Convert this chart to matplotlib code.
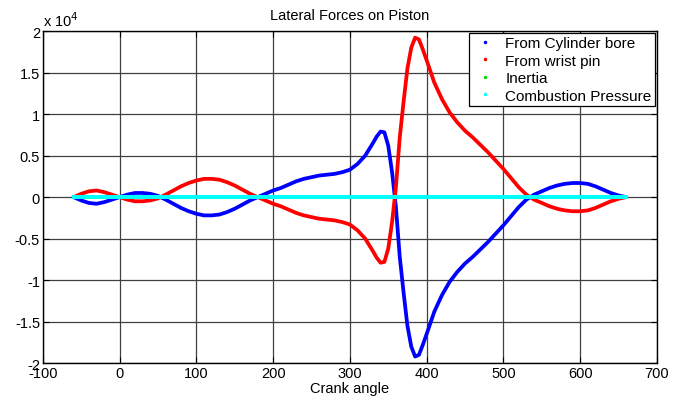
import matplotlib
matplotlib.use('Agg')
import matplotlib.pyplot as plt
from matplotlib.lines import Line2D
from matplotlib.ticker import FuncFormatter
import numpy as np

plt.rcParams['font.family'] = ['Liberation Sans', 'DejaVu Sans']
plt.rcParams['axes.unicode_minus'] = False

# crank angle (deg)
crank = [-60, -50, -40, -30, -20, -10, 0, 10, 20, 30, 40, 50, 60, 70, 80, 90,
         100, 110, 120, 130, 140, 150, 160, 170, 180, 190, 200, 210, 220, 230,
         240, 250, 260, 270, 280, 290, 300, 310, 320, 330, 335, 340, 345, 350,
         355, 360, 365, 370, 375, 380, 385, 390, 395, 400, 410, 420, 430, 440,
         450, 460, 470, 480, 490, 500, 510, 520, 530, 540, 550, 560, 570, 580,
         590, 600, 610, 620, 630, 640, 650, 660]

# lateral force from cylinder bore
bore = [0, -400, -700, -800, -600, -300, 0, 300, 500, 500, 400, 150, -300,
        -800, -1300, -1700, -2000, -2200, -2200, -2100, -1800, -1400, -900,
        -400, 0, 400, 800, 1100, 1500, 1900, 2200, 2400, 2600, 2700, 2800,
        3000, 3300, 4000, 5000, 6500, 7300, 7900, 7800, 6200, 3000, -1200,
        -7200, -11500, -15500, -18000, -19200, -19000, -17800, -16500, -13800,
        -11800, -10200, -9000, -8000, -7200, -6300, -5400, -4400, -3400,
        -2300, -1200, -300, 300, 700, 1100, 1400, 1600, 1700, 1700, 1600,
        1300, 900, 500, 200, 0]

# lateral force from wrist pin
wrist = [0, 400, 700, 800, 600, 300, 0, -300, -500, -500, -400, -150, 300,
         800, 1300, 1700, 2000, 2200, 2200, 2100, 1800, 1400, 900,
         400, 0, -400, -800, -1100, -1500, -1900, -2200, -2400, -2600, -2700,
         -2800, -3000, -3300, -4000, -5000, -6500, -7300, -7900, -7800, -6200,
         -3000, 1200, 7200, 11500, 15500, 18000, 19200, 19000, 17800, 16500,
         13800, 11800, 10200, 9000, 8000, 7200, 6300, 5400, 4400, 3400,
         2300, 1200, 300, -300, -700, -1100, -1400, -1600, -1700, -1700, -1600,
         -1300, -900, -500, -200, 0]

inertia = [0] * len(crank)
combustion = [0] * len(crank)

fig = plt.figure(figsize=(6.8, 4.06), dpi=100)
ax = fig.add_axes([0.063, 0.103, 0.903, 0.818])

ax.plot(crank, bore, color='#0000ff', lw=2.7, solid_capstyle='round')
ax.plot(crank, wrist, color='#ff0000', lw=2.7, solid_capstyle='round')
ax.plot(crank, inertia, color='#00dd00', lw=2.7)
ax.plot(crank, combustion, color='#00ffff', lw=2.9)

ax.set_xlim(-100, 700)
ax.set_ylim(-20000, 20000)
ax.set_xticks(np.arange(-100, 701, 100))
ax.set_yticks(np.arange(-20000, 20001, 5000))
ax.yaxis.set_major_formatter(FuncFormatter(lambda v, p: f'{v / 1e4:g}'))
ax.grid(True, color='0.25', lw=0.9)
ax.set_axisbelow(True)
ax.tick_params(direction='in', top=True, right=True, labelsize=10.5, length=4,
               pad=2)
for s in ax.spines.values():
    s.set_linewidth(1.0)

ax.text(0.0, 1.005, r'x 10$^4$', transform=ax.transAxes, fontsize=10.5,
        ha='left', va='bottom')
ax.set_title('Lateral Forces on Piston', fontsize=10.5, pad=9)
ax.set_xlabel('Crank angle', fontsize=10.5, labelpad=1)

handles = [Line2D([], [], color=c, marker='.', ms=3, ls='none')
           for c in ['#0000ff', '#ff0000', '#00dd00', '#00ffff']]
leg = ax.legend(handles, ['From Cylinder bore', 'From wrist pin', 'Inertia',
                          'Combustion Pressure'],
                loc='upper right', fontsize=11, fancybox=False,
                borderaxespad=0.1, handlelength=1.6, labelspacing=0.22,
                handletextpad=0.5, borderpad=0.25)
leg.get_frame().set_edgecolor('black')
leg.get_frame().set_linewidth(0.9)
leg.get_frame().set_alpha(1)

fig.savefig('out.png', dpi=100)
